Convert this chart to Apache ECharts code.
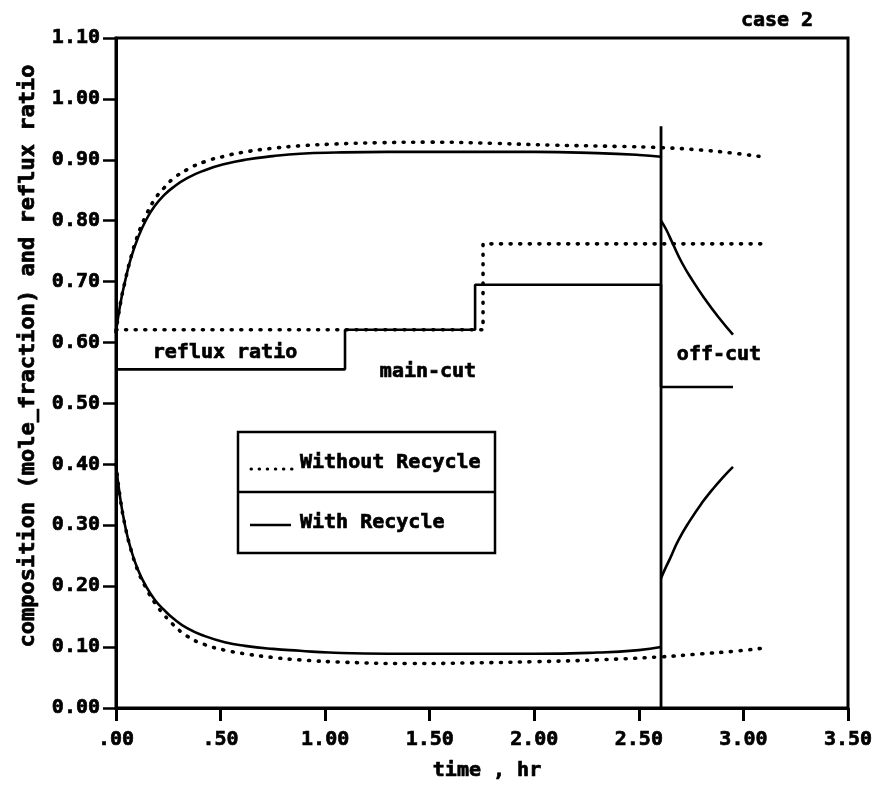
<!DOCTYPE html>
<html>
<head>
<meta charset="utf-8">
<title>case 2</title>
<script src="https://cdn.jsdelivr.net/npm/echarts@6/dist/echarts.min.js"></script>
<style>
  html, body { margin: 0; padding: 0; background: #ffffff; }
  #chart { width: 877px; height: 798px; }
</style>
</head>
<body>
<div id="chart"></div>
<script>
// Tick labels
var xTickLabels = ['.00', '.50', '1.00', '1.50', '2.00', '2.50', '3.00', '3.50'];
var yTickLabels = ['0.00', '0.10', '0.20', '0.30', '0.40', '0.50', '0.60', '0.70', '0.80', '0.90', '1.00', '1.10'];

// Without recycle: distillate composition (time hr, mole fraction)
var noRecycleTop = [
  [0, 0.617], [0.02, 0.662], [0.043, 0.700], [0.07, 0.738], [0.105, 0.777], [0.145, 0.810],
  [0.187, 0.836], [0.23, 0.854], [0.27, 0.868], [0.34, 0.884], [0.425, 0.897], [0.52, 0.906],
  [0.617, 0.913], [0.75, 0.919], [0.88, 0.923], [1.05, 0.926], [1.25, 0.928], [1.5, 0.929],
  [1.8, 0.927], [2.1, 0.924], [2.4, 0.922], [2.606, 0.920], [2.8, 0.916], [2.95, 0.911], [3.09, 0.905]
];
// Without recycle: still composition
var noRecycleBottom = [
  [0, 0.400], [0.02, 0.345], [0.043, 0.300], [0.07, 0.262], [0.105, 0.225], [0.145, 0.196],
  [0.187, 0.172], [0.23, 0.153], [0.27, 0.138], [0.34, 0.118], [0.425, 0.104], [0.52, 0.095],
  [0.617, 0.089], [0.75, 0.083], [0.88, 0.079], [1.1, 0.075], [1.4, 0.073], [1.7, 0.074],
  [2.0, 0.076], [2.3, 0.079], [2.606, 0.084], [2.8, 0.089], [2.95, 0.093], [3.09, 0.098]
];
// Without recycle: reflux ratio steps (time where each value begins)
var noRecycleReflux = [[0, 0.621], [1.755, 0.762], [3.09, 0.762]];

// With recycle: main-cut distillate composition
var recycleTop = [
  [0, 0.617], [0.02, 0.662], [0.043, 0.700], [0.07, 0.737], [0.105, 0.772], [0.145, 0.802],
  [0.187, 0.825], [0.23, 0.842], [0.27, 0.854], [0.34, 0.870], [0.425, 0.883], [0.52, 0.893],
  [0.617, 0.900], [0.75, 0.906], [0.88, 0.910], [1.05, 0.912], [1.3, 0.913], [1.6, 0.913],
  [2.0, 0.913], [2.3, 0.911], [2.5, 0.908], [2.606, 0.905]
];
// With recycle: main-cut still composition
var recycleBottom = [
  [0, 0.400], [0.02, 0.345], [0.043, 0.300], [0.07, 0.262], [0.105, 0.227], [0.145, 0.199],
  [0.187, 0.177], [0.23, 0.161], [0.27, 0.148], [0.34, 0.131], [0.425, 0.118], [0.52, 0.108],
  [0.617, 0.102], [0.75, 0.097], [0.88, 0.094], [1.02, 0.091], [1.3, 0.089], [1.6, 0.089],
  [2.0, 0.089], [2.3, 0.091], [2.5, 0.095], [2.606, 0.100]
];
// With recycle: reflux ratio steps
var recycleReflux = [[0, 0.556], [1.095, 0.621], [1.717, 0.695], [2.606, 0.527], [2.95, 0.527]];

// With recycle: off-cut compositions
var offCutTop = [
  [2.606, 0.800], [2.63, 0.786], [2.66, 0.764], [2.706, 0.731],
  [2.76, 0.700], [2.817, 0.671], [2.88, 0.642], [2.95, 0.613]
];
var offCutBottom = [
  [2.606, 0.213], [2.625, 0.228], [2.65, 0.246], [2.69, 0.276], [2.745, 0.308],
  [2.80, 0.336], [2.85, 0.358], [2.90, 0.378], [2.95, 0.396]
];

// Main-cut / off-cut boundary
var cutTime = 2.606;
var cutMarkerTop = 0.955;

var FONT = '"DejaVu Sans Mono", "Liberation Mono", monospace';
var DOT = { type: [1, 8.6], cap: 'round', width: 3.6, color: '#000' };
var SOLID = { type: 'solid', width: 2.6, color: '#000' };
var HEAVY = { textBorderColor: '#000', textBorderWidth: 0.7 };

function curve(name, data, style) {
  return {
    name: name, type: 'line', data: data, showSymbol: false, symbol: 'none',
    smooth: 0.5, lineStyle: style, z: 3
  };
}
function steps(name, data, style) {
  return {
    name: name, type: 'line', data: data, showSymbol: false, symbol: 'none',
    step: 'end', lineStyle: style, z: 3
  };
}
function label(text, x, y, align, extra) {
  var el = {
    type: 'text', x: x, y: y, z: 11,
    style: {
      text: text, font: 'bold 20px ' + FONT, fill: '#000', stroke: '#000', lineWidth: 0.7,
      textAlign: align, textVerticalAlign: 'middle', align: align, verticalAlign: 'middle'
    }
  };
  if (extra) { for (var k in extra) { el[k] = extra[k]; } }
  return el;
}

var chart = echarts.init(document.getElementById('chart'), null, { renderer: 'canvas' });

var yName = label('composition (mole_fraction) and reflux ratio', 28, 356, 'center', { rotation: Math.PI / 2 });
yName.style.font = 'bold 22px ' + FONT;

chart.setOption({
  animation: false,
  backgroundColor: '#ffffff',
  grid: { left: 116, right: 29, top: 38, bottom: 90, show: true, borderColor: '#000', borderWidth: 3 },
  xAxis: {
    type: 'value', min: 0, max: 3.5, interval: 0.5,
    name: 'time , hr', nameLocation: 'middle', nameGap: 53,
    nameTextStyle: Object.assign({ fontFamily: FONT, fontWeight: 'bold', fontSize: 20, color: '#000', padding: [0, 0, 0, 10] }, HEAVY),
    axisLine: { show: true, lineStyle: { color: '#000', width: 3 } },
    axisTick: { show: true, inside: false, length: 13, lineStyle: { color: '#000', width: 3 } },
    axisLabel: Object.assign({
      margin: 22, fontFamily: FONT, fontWeight: 'bold', fontSize: 20, color: '#000',
      formatter: function (v) { return xTickLabels[Math.round(v / 0.5)]; }
    }, HEAVY),
    splitLine: { show: false }
  },
  yAxis: {
    type: 'value', min: 0, max: 1.1, interval: 0.1,
    axisLine: { show: true, lineStyle: { color: '#000', width: 3 } },
    axisTick: { show: true, inside: false, length: 13, lineStyle: { color: '#000', width: 2.5 } },
    axisLabel: Object.assign({
      margin: 16, fontFamily: FONT, fontWeight: 'bold', fontSize: 20, color: '#000',
      formatter: function (v) { return yTickLabels[Math.round(v * 10)]; }
    }, HEAVY),
    splitLine: { show: false }
  },
  graphic: [
    yName,
    label('case 2', 777, 21, 'center'),
    label('reflux ratio', 225, 353, 'center'),
    label('main-cut', 428, 372, 'center'),
    label('off-cut', 719, 355, 'center'),
    // legend box
    { type: 'rect', shape: { x: 238, y: 432, width: 257, height: 121 },
      style: { fill: '#fff', stroke: '#000', lineWidth: 2.5 }, z: 10 },
    { type: 'line', shape: { x1: 238, y1: 492, x2: 495, y2: 492 },
      style: { stroke: '#000', lineWidth: 2.5 }, z: 11 },
    { type: 'line', shape: { x1: 251, y1: 469, x2: 293, y2: 469 },
      style: { stroke: '#000', lineWidth: 3, lineDash: [0.5, 7.6], lineCap: 'round' }, z: 11 },
    { type: 'line', shape: { x1: 250, y1: 525, x2: 291, y2: 525 },
      style: { stroke: '#000', lineWidth: 2.5 }, z: 11 },
    label('Without Recycle', 300, 463, 'left'),
    label('With Recycle', 300, 523, 'left')
  ],
  series: [
    curve('Without Recycle distillate', noRecycleTop, DOT),
    curve('Without Recycle still', noRecycleBottom, DOT),
    steps('Without Recycle reflux ratio', noRecycleReflux, DOT),
    curve('With Recycle distillate', recycleTop, SOLID),
    curve('With Recycle still', recycleBottom, SOLID),
    steps('With Recycle reflux ratio', recycleReflux, SOLID),
    curve('With Recycle off-cut distillate', offCutTop, SOLID),
    curve('With Recycle off-cut still', offCutBottom, SOLID),
    {
      name: 'cut boundary', type: 'line', showSymbol: false, symbol: 'none',
      data: [[cutTime, 0], [cutTime, cutMarkerTop]],
      lineStyle: { color: '#000', width: 2.8 }, z: 4
    }
  ]
});
</script>
</body>
</html>
